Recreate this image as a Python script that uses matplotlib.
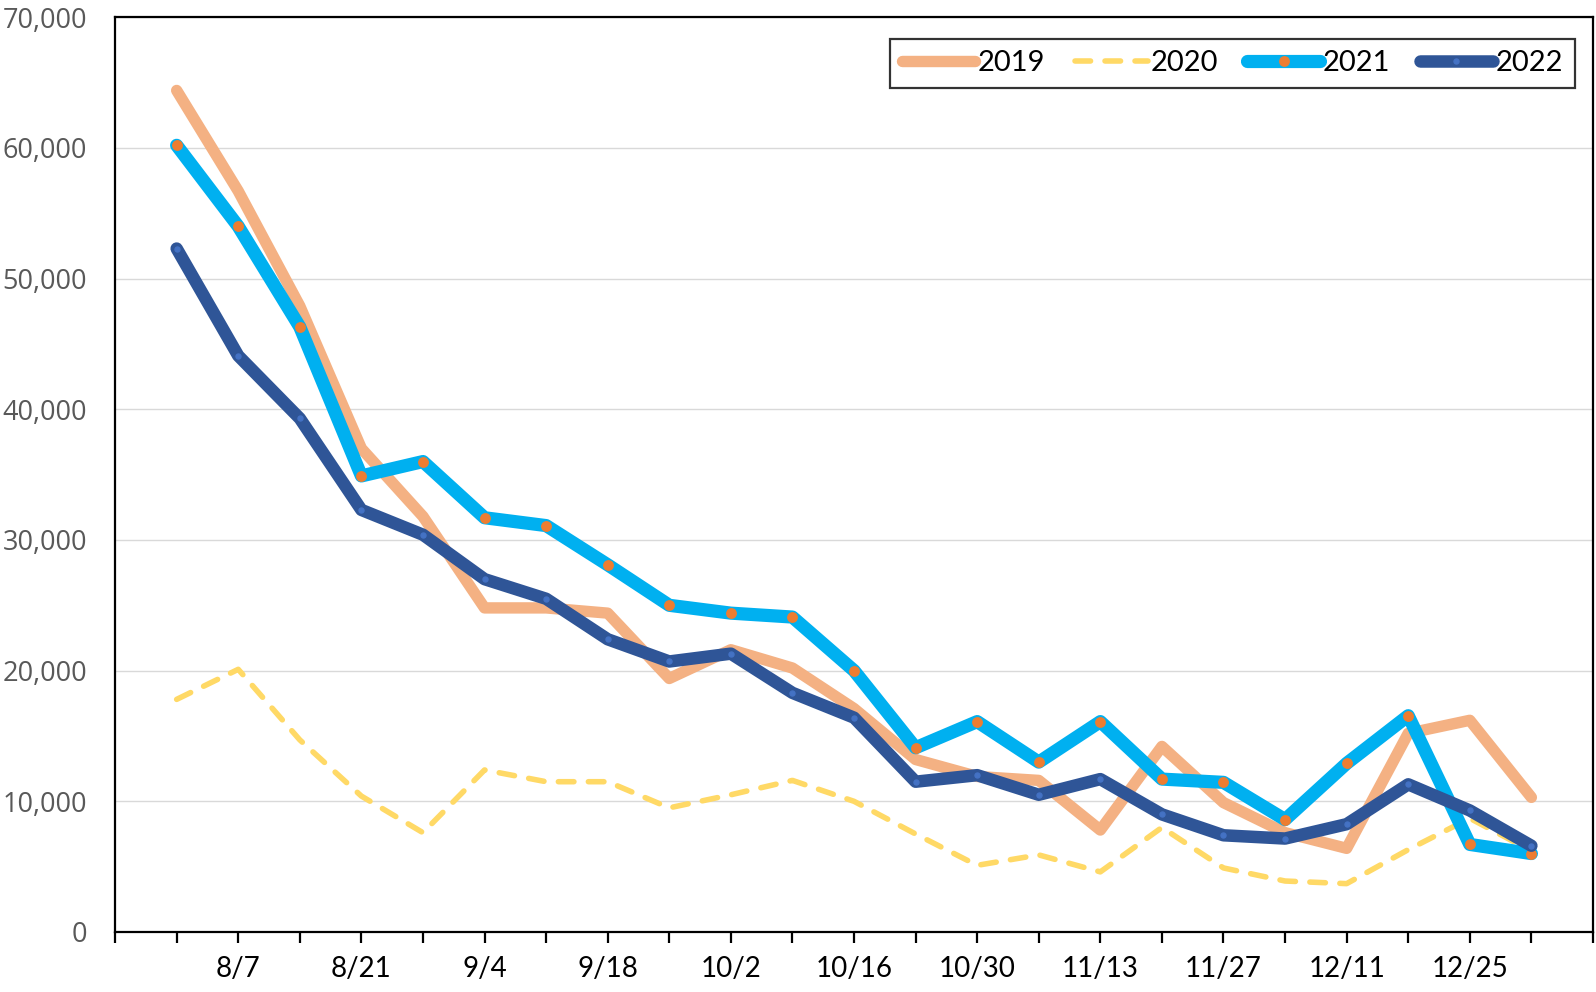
import numpy as np
import matplotlib
matplotlib.use("Agg")
import matplotlib.pyplot as plt
from matplotlib.ticker import FuncFormatter

# week labels (x categories)
weeks = ["7/31", "8/7", "8/14", "8/21", "8/28", "9/4", "9/11", "9/18", "9/25",
         "10/2", "10/9", "10/16", "10/23", "10/30", "11/6", "11/13", "11/20",
         "11/27", "12/4", "12/11", "12/18", "12/25", "1/1"]

y2019 = [64400, 56700, 47900, 37000, 31800, 24800, 24800, 24400, 19400, 21600,
         20200, 17100, 13200, 11900, 11600, 7800, 14200, 9900, 7600, 6400,
         15200, 16200, 10300]
y2020 = [17800, 20100, 14700, 10400, 7600, 12400, 11500, 11500, 9500, 10500,
         11600, 10000, 7500, 5100, 5900, 4600, 8000, 4900, 3900, 3700,
         6300, 8700, 6200]
y2021 = [60200, 54000, 46300, 34900, 36000, 31700, 31100, 28100, 25000, 24400,
         24100, 20000, 14100, 16100, 13000, 16100, 11700, 11450, 8600, 12900,
         16550, 6700, 6000]
y2022 = [52300, 44100, 39300, 32300, 30400, 27000, 25500, 22400, 20700, 21300,
         18300, 16400, 11500, 12000, 10500, 11700, 9000, 7400, 7150, 8250,
         11300, 9300, 6600]

x = np.arange(len(weeks))
narrow = ["Liberation Sans Narrow", "Lato", "DejaVu Sans"]

fig = plt.figure(figsize=(15.96, 9.92), dpi=100)
ax = fig.add_axes([0.0721, 0.0605, 0.9260, 0.9221])

kw = dict(solid_capstyle="round", solid_joinstyle="round")
ax.plot(x, y2019, color="#F4B183", lw=8.2, label="2019", zorder=3, **kw)
ax.plot(x, y2020, color="#FFD966", lw=4.0, ls=(0, (2.8, 2.6)), label="2020",
        dash_capstyle="round", dash_joinstyle="round", zorder=4)
ax.plot(x, y2021, color="#00B0F0", lw=9.5, marker="o", ms=6.8,
        mfc="#ED7D31", mec="#ED7D31", label="2021", zorder=5, **kw)
ax.plot(x, y2022, color="#2F5597", lw=9.0, marker="o", ms=3.6,
        mfc="#4472C4", mec="#4472C4", label="2022", zorder=6, **kw)

ax.set_ylim(0, 70000)
ax.set_xlim(-1, len(weeks))
ax.set_yticks(np.arange(0, 70001, 10000))
ax.yaxis.set_major_formatter(FuncFormatter(lambda v, p: f"{int(v):,}"))
ax.grid(axis="y", color="#D9D9D9", lw=1.0, zorder=0)

# ticks between every week, labels on every other week
ticks = np.arange(-1, len(weeks) + 1)
labels = [weeks[t] if (0 <= t < len(weeks) and t % 2 == 1) else "" for t in ticks]
ax.set_xticks(ticks)
ax.set_xticklabels(labels, family=narrow, fontsize=20)
ax.tick_params(axis="x", direction="out", length=8, width=1.6, pad=9,
               color="black")
ax.tick_params(axis="y", length=0, pad=20, labelcolor="#595959",
               labelsize=19.5)
for lab in ax.get_yticklabels():
    lab.set_family(["Open Sans", "DejaVu Sans"])

for s in ax.spines.values():
    s.set_color("black")
    s.set_linewidth(1.6)

leg = ax.legend(ncol=4, loc="upper right", bbox_to_anchor=(0.9876, 0.9766),
                borderaxespad=0, frameon=True, fancybox=False,
                handlelength=2.5, handletextpad=0.1, columnspacing=1.0,
                borderpad=0.4, prop={"family": narrow, "size": 21})
leg.get_frame().set_edgecolor("black")
leg.get_frame().set_linewidth(1.6)

plt.savefig("out.png", dpi=100)
